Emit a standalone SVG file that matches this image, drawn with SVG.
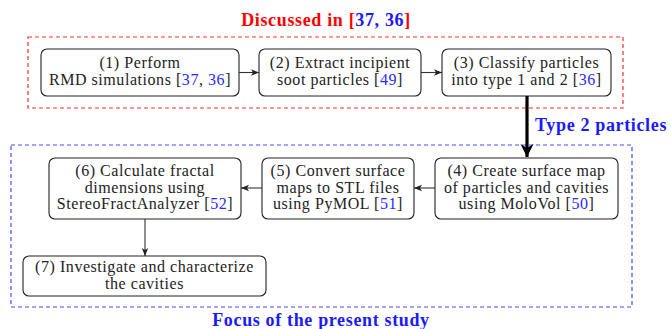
<svg xmlns="http://www.w3.org/2000/svg" width="671" height="329" viewBox="0 0 671 329">
<style>
.node rect{fill:#fff;stroke:#222;stroke-width:1.1}
.node text{font-family:'Liberation Serif','Times New Roman',serif;font-size:16px;letter-spacing:0.55px;fill:#222;text-anchor:middle}
.cite{fill:#2a2aff}
.title{font-family:'Liberation Serif','Times New Roman',serif;font-size:18px;font-weight:bold;letter-spacing:0.65px}
.conn line{stroke:#333;stroke-width:1.1;fill:none}
</style>
<defs>
<marker id="ah" markerWidth="10" markerHeight="8" refX="8" refY="4" orient="auto" markerUnits="userSpaceOnUse">
<path d="M0,0.8 L8,4 L0,7.2 L2,4 Z" fill="#222"/>
</marker>
<marker id="big" markerWidth="16" markerHeight="16" refX="13" refY="7" orient="auto" markerUnits="userSpaceOnUse">
<path d="M0,0.5 L13,7 L0,13.5 L4,7 Z" fill="#000"/>
</marker>
</defs>
<g id="group-discussed">
<rect x="28" y="37" width="595" height="71" fill="none" stroke="#ff3030" stroke-width="1.2" stroke-dasharray="4,3"/>
<text class="title" x="326" y="26" text-anchor="middle" fill="#ff0000">Discussed in <tspan>[</tspan><tspan fill="#1a1aff">37, 36</tspan>]</text>
</g>
<g id="group-focus">
<rect x="11" y="145" width="621" height="162" fill="none" stroke="#4a4aff" stroke-width="1.2" stroke-dasharray="4,3"/>
<text class="title" x="321" y="326" text-anchor="middle" fill="#1a1aff">Focus of the present study</text>
</g>
<g id="n1" class="node">
<rect x="41" y="49" width="198" height="47" rx="6"/>
<text x="140" y="68">(1) Perform</text>
<text x="140" y="85">RMD simulations [<tspan class="cite">37</tspan>, <tspan class="cite">36</tspan>]</text>
</g>
<g id="n2" class="node">
<rect x="259" y="49" width="162" height="47" rx="6"/>
<text x="340" y="68">(2) Extract incipient</text>
<text x="340" y="85">soot particles [<tspan class="cite">49</tspan>]</text>
</g>
<g id="n3" class="node">
<rect x="442" y="49" width="169" height="47" rx="6"/>
<text x="526.5" y="68">(3) Classify particles</text>
<text x="526.5" y="85">into type 1 and 2 [<tspan class="cite">36</tspan>]</text>
</g>
<g id="n4" class="node">
<rect x="435" y="158" width="183" height="61" rx="6"/>
<text x="526.5" y="176">(4) Create surface map</text>
<text x="526.5" y="192.5">of particles and cavities</text>
<text x="526.5" y="209">using MoloVol [<tspan class="cite">50</tspan>]</text>
</g>
<g id="n5" class="node">
<rect x="262" y="158" width="152" height="61" rx="6"/>
<text x="338" y="176">(5) Convert surface</text>
<text x="338" y="192.5">maps to STL files</text>
<text x="338" y="209">using PyMOL [<tspan class="cite">51</tspan>]</text>
</g>
<g id="n6" class="node">
<rect x="49" y="158" width="192" height="61" rx="6"/>
<text x="145" y="176">(6) Calculate fractal</text>
<text x="145" y="192.5">dimensions using</text>
<text x="145" y="209">StereoFractAnalyzer [<tspan class="cite">52</tspan>]</text>
</g>
<g id="n7" class="node">
<rect x="23" y="256" width="243" height="40" rx="6"/>
<text x="144.5" y="272">(7) Investigate and characterize</text>
<text x="144.5" y="289">the cavities</text>
</g>
<g id="connectors" class="conn">
<line x1="239" y1="72.5" x2="259" y2="72.5" marker-end="url(#ah)"/>
<line x1="421" y1="72.5" x2="442" y2="72.5" marker-end="url(#ah)"/>
<line x1="527" y1="96" x2="527" y2="157" style="stroke:#000;stroke-width:3.2" marker-end="url(#big)"/>
<line x1="435" y1="188" x2="414" y2="188" marker-end="url(#ah)"/>
<line x1="262" y1="188" x2="241" y2="188" marker-end="url(#ah)"/>
<line x1="145" y1="219" x2="145" y2="256" marker-end="url(#ah)"/>
<text x="535" y="131" font-family="'Liberation Serif','Times New Roman',serif" font-size="18" font-weight="bold" letter-spacing="0.65" fill="#1a1aff">Type 2 particles</text>
</g>
</svg>
